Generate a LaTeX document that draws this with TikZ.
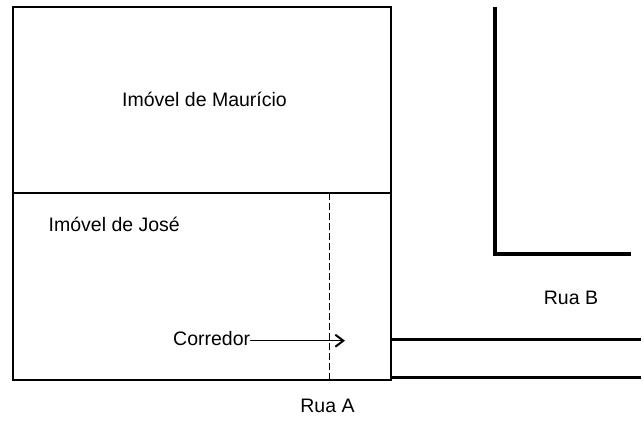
\documentclass[tikz,border=0pt]{standalone}
\usepackage{fontspec}
\setmainfont{Liberation Sans}
\usetikzlibrary{arrows.meta}
\begin{document}
\begin{tikzpicture}[x=1pt,y=-1pt,
  lbl/.style={font=\fontsize{19.5}{22}\selectfont, inner sep=0pt, anchor=base},
  lot/.style={draw=black, line width=1.2pt},
  road/.style={draw=black, line width=3.8pt},
  corr/.style={draw=black, line width=1.1pt, dash pattern=on 6.5pt off 3.5pt}]
\useasboundingbox (0,0) rectangle (644,439);
% lots
\draw[lot] (13,7) rectangle (391,380);
\draw[lot] (13,193) -- (391,193);
\draw[corr] (329.5,193) -- (329.5,380);
% roads
\draw[road] (495,7) -- (495,254) -- (631,254);
\draw[road] (391,339.5) -- (641,339.5);
\draw[road] (391,377.5) -- (641,377.5);
% labels
\node[lbl] (mauricio) at (204.5,106.5) {Imóvel de Maurício};
\node[lbl, anchor=base west] (jose) at (48.5,231) {Imóvel de José};
\node[lbl, anchor=base west] (corredor) at (173,345) {Corredor};
\node[lbl] (ruab) at (571,304) {Rua B};
\node[lbl] (ruaa) at (327.5,412) {Rua A};
% arrow
\coordinate (tip) at (345,340.7);
\draw[line width=1.1pt, -{Straight Barb[length=8pt,width=12pt,line width=2pt]}] (corredor.east |- tip) -- (tip);
\end{tikzpicture}
\end{document}
